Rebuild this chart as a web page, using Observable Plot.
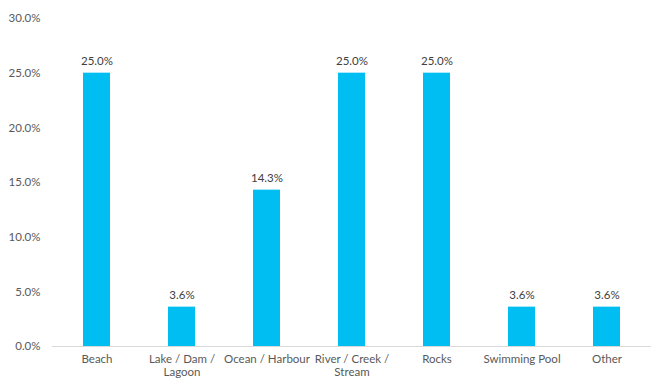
<!DOCTYPE html>
<html><head><meta charset="utf-8">
<script src="https://cdn.jsdelivr.net/npm/d3@7"></script>
<script src="https://cdn.jsdelivr.net/npm/@observablehq/plot@0.6"></script>
<style>
html,body{margin:0;padding:0;background:#fff;}
#chart svg{display:block;}
</style>
</head><body><div id="chart"></div>
<script>
const categories = ["Beach", "Lake / Dam / Lagoon", "Ocean / Harbour", "River / Creek / Stream", "Rocks", "Swimming Pool", "Other"];
const tickLabels = ["Beach", "Lake / Dam /\nLagoon", "Ocean / Harbour", "River / Creek /\nStream", "Rocks", "Swimming Pool", "Other"];
const values = [25.0, 3.6, 14.3, 25.0, 25.0, 3.6, 3.6];
const yTicks = [0, 5, 10, 15, 20, 25, 30];

const data = categories.map((c, i) => ({category: c, value: values[i]}));
const labelOf = new Map(categories.map((c, i) => [c, tickLabels[i]]));

const chart = Plot.plot({
  width: 651,
  height: 382,
  marginLeft: 52,
  marginRight: 0,
  marginTop: 18,
  marginBottom: 36,
  style: {fontFamily: "Lato, sans-serif", fontSize: "11.5px", color: "#595959", background: "#fff"},
  x: {domain: categories, paddingInner: 0.685, paddingOuter: 0.3425, label: null},
  y: {domain: [0, 30], label: null},
  marks: [
    Plot.axisY({ticks: yTicks, tickFormat: d => d.toFixed(1) + "%", tickSize: 0, tickPadding: 12, fill: "#595959", fontSize: 11.5, label: null}),
    Plot.axisX({tickFormat: d => labelOf.get(d), tickSize: 0, tickPadding: 8, fill: "#595959", fontSize: 11.5, label: null, lineHeight: 1.1}),
    Plot.barY(data, {x: "category", y: "value", fill: "#00BEF2"}),
    Plot.ruleY([0], {stroke: "#d9d9d9", strokeWidth: 1}),
    Plot.text(data, {x: "category", y: "value", text: d => d.value.toFixed(1) + "%", dy: -12, fill: "#404040", fontSize: 11.5})
  ]
});
document.getElementById("chart").appendChild(chart);
</script>
</body></html>
